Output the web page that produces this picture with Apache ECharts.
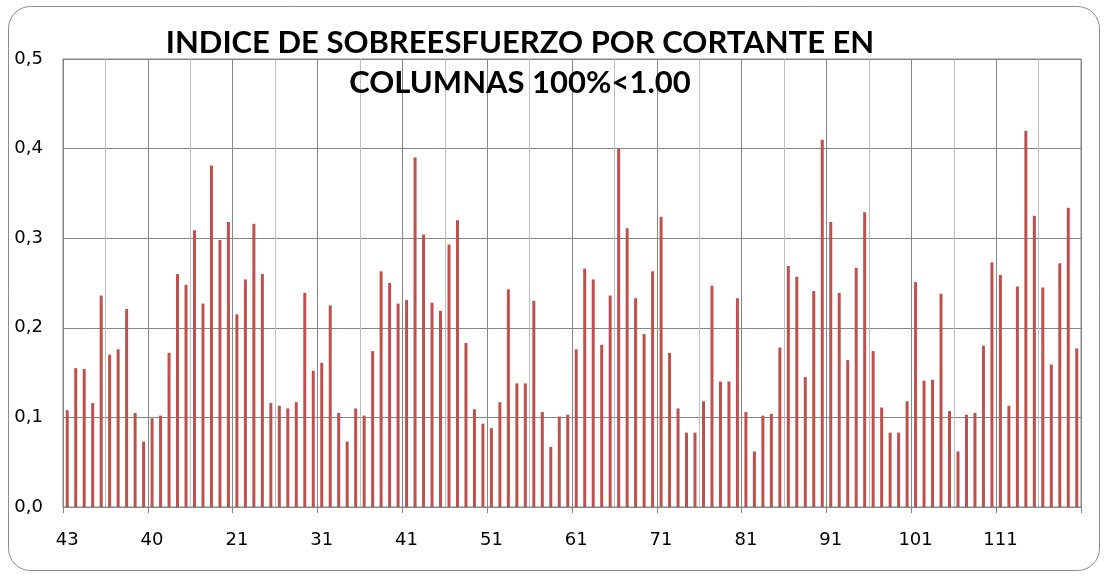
<!DOCTYPE html>
<html>
<head>
<meta charset="utf-8">
<script src="https://cdn.jsdelivr.net/npm/echarts@6/dist/echarts.min.js"></script>
<style>
  html, body { margin: 0; padding: 0; background: #ffffff; }
  #chart { width: 1107px; height: 577px; }
</style>
</head>
<body>
<div id="chart"></div>
<script>
// Shear overstress index per column, in column order (4 blocks of 30)
const indexBlockA = [0.108, 0.155, 0.154, 0.116, 0.236, 0.170, 0.176, 0.221, 0.105, 0.073,
                     0.099, 0.102, 0.172, 0.260, 0.248, 0.309, 0.227, 0.381, 0.298, 0.318,
                     0.215, 0.254, 0.316, 0.260, 0.116, 0.113, 0.110, 0.117, 0.239, 0.152];
const indexBlockB = [0.161, 0.225, 0.105, 0.073, 0.110, 0.102, 0.174, 0.263, 0.250, 0.227,
                     0.231, 0.390, 0.304, 0.228, 0.219, 0.293, 0.320, 0.183, 0.109, 0.093,
                     0.088, 0.117, 0.243, 0.138, 0.138, 0.230, 0.106, 0.067, 0.101, 0.103];
const indexBlockC = [0.176, 0.266, 0.254, 0.181, 0.236, 0.400, 0.311, 0.233, 0.193, 0.263,
                     0.324, 0.172, 0.110, 0.083, 0.083, 0.118, 0.247, 0.140, 0.140, 0.233,
                     0.106, 0.062, 0.102, 0.104, 0.178, 0.269, 0.257, 0.145, 0.241, 0.410];
const indexBlockD = [0.318, 0.239, 0.164, 0.267, 0.329, 0.174, 0.111, 0.083, 0.083, 0.118,
                     0.251, 0.141, 0.142, 0.238, 0.107, 0.062, 0.103, 0.105, 0.180, 0.273,
                     0.259, 0.113, 0.246, 0.420, 0.325, 0.245, 0.159, 0.272, 0.334, 0.177];

// Column labels shown on the axis, one every 10 columns
const columnTickLabels = ['43', '40', '21', '31', '41', '51', '61', '71', '81', '91', '101', '111'];

const titleLines = ['INDICE DE SOBREESFUERZO POR CORTANTE EN', 'COLUMNAS 100%<1.00'];

const shearIndex = indexBlockA.concat(indexBlockB, indexBlockC, indexBlockD);
const columns = shearIndex.map((_, i) => String(i));

const chart = echarts.init(document.getElementById('chart'), null, { renderer: 'canvas' });

const axisFont = { fontFamily: 'DejaVu Sans', fontSize: 18, color: '#000000' };

chart.setOption({
  animation: false,
  backgroundColor: '#ffffff',
  title: {
    text: titleLines.join('\n'),
    left: 515,
    top: 18,
    textAlign: 'center',
    textStyle: {
      fontFamily: 'Lato',
      fontWeight: 'bold',
      fontSize: 31,
      lineHeight: 40,
      color: '#000000'
    }
  },
  graphic: [{
    type: 'rect',
    silent: true,
    z: -1,
    shape: { x: 8.5, y: 6.5, width: 1091, height: 564, r: 22 },
    style: { fill: 'none', stroke: '#8c8c8c', lineWidth: 1 }
  }],
  grid: {
    left: 63,
    right: 26,
    top: 59,
    bottom: 70,
    show: true,
    borderColor: '#868686',
    borderWidth: 1,
    backgroundColor: 'transparent'
  },
  xAxis: {
    type: 'category',
    data: columns,
    boundaryGap: true,
    axisLine: { show: true, lineStyle: { color: '#868686', width: 1 } },
    axisTick: { show: true, interval: 9, length: 6, lineStyle: { color: '#868686' } },
    axisLabel: {
      interval: 9,
      margin: 24,
      ...axisFont,
      formatter: (v, idx) => columnTickLabels[Math.floor(idx / 10)]
    },
    splitLine: {
      show: true,
      interval: 4,
      lineStyle: { color: ['#868686', '#bfbfbf'], width: 1 }
    }
  },
  yAxis: {
    type: 'value',
    min: 0,
    max: 0.5,
    interval: 0.1,
    axisLine: { show: true, lineStyle: { color: '#868686' } },
    axisTick: { show: false },
    axisLabel: {
      margin: 20,
      ...axisFont,
      formatter: v => v.toFixed(1).replace('.', ',')
    },
    splitLine: { show: true, lineStyle: { color: '#868686', width: 1 } }
  },
  series: [{
    type: 'bar',
    data: shearIndex,
    barWidth: 3,
    itemStyle: { color: '#c0504d' }
  }]
});
</script>
</body>
</html>
